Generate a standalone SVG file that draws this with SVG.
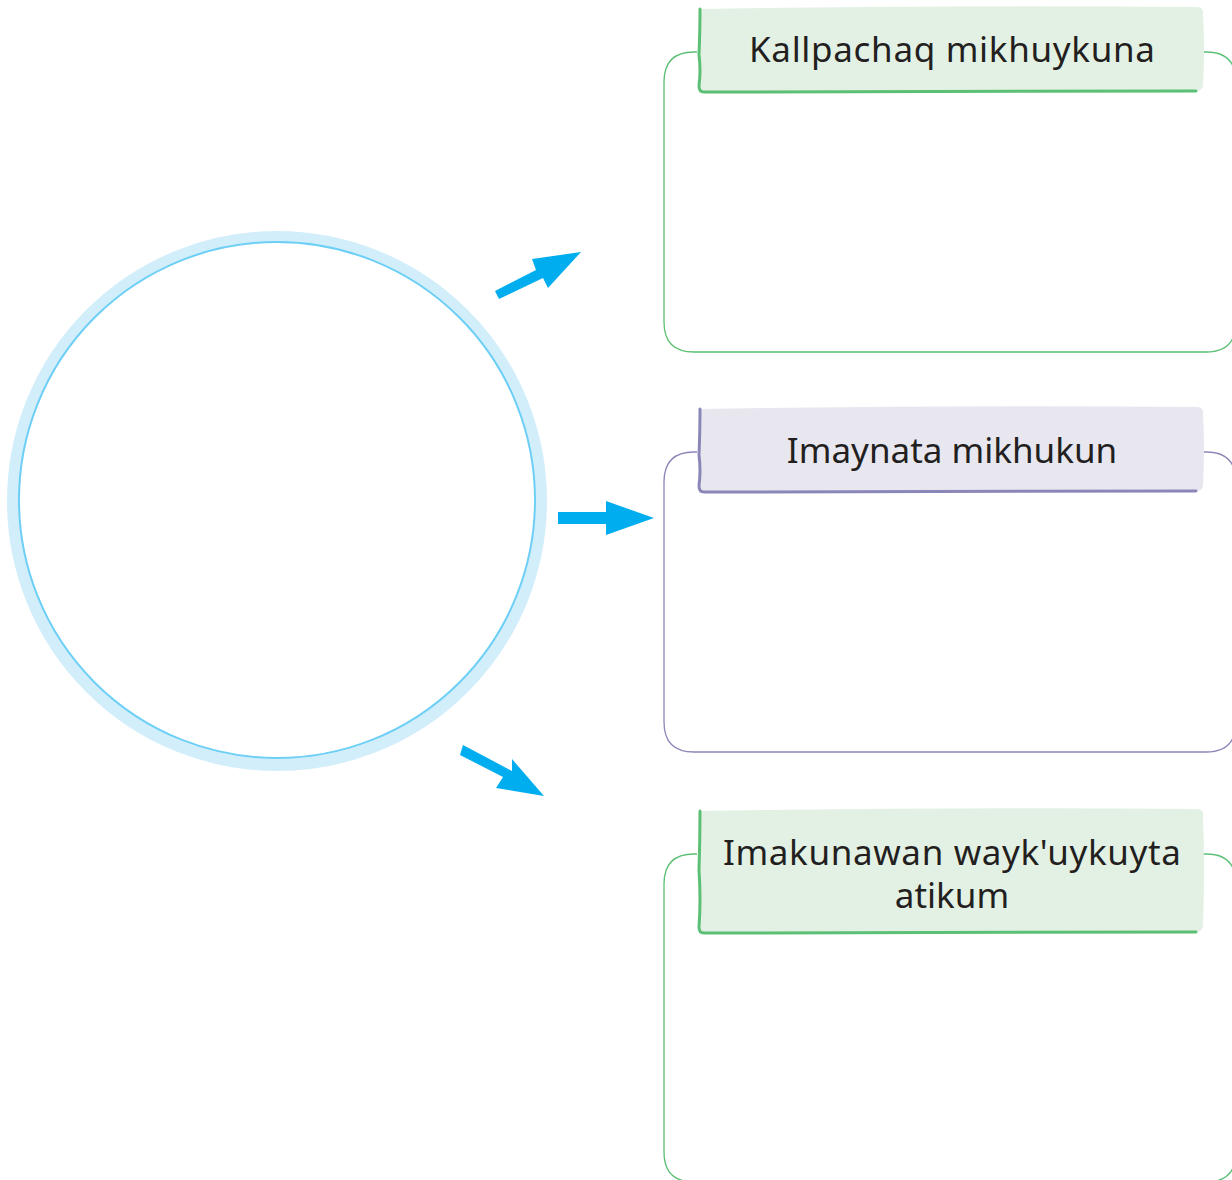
<svg xmlns="http://www.w3.org/2000/svg" width="1232" height="1180" viewBox="0 0 1232 1180">
<style>
.lbl{font-family:"Noto Sans","DejaVu Sans",sans-serif;font-size:35px;fill:#231f20;text-anchor:middle}
.arrow{fill:#00aeef}
.boxg{fill:none;stroke:#5bbf74;stroke-width:1.3}
.boxp{fill:none;stroke:#8b86b8;stroke-width:1.3}
</style>
<rect width="1232" height="1180" fill="#ffffff"/>
<g id="circle">
<circle cx="277" cy="501" r="264" fill="none" stroke="#d3eefb" stroke-width="12"/>
<circle cx="277" cy="500" r="258" fill="#ffffff" stroke="#6dcff6" stroke-width="2"/>
</g>
<g id="connectors">
<polygon class="arrow" points="495,291 536,270 532,259 581,252 548,288 543,278 499,299"/>
<polygon class="arrow" points="558,512 606,512 606,501 654,518 606,535 606,524 558,524"/>
<polygon class="arrow" points="463,745 512,771 512,759 544,796 496,788 503,777 460,755"/>
</g>
<g id="node1">
<path class="boxg" d="M697,52 H694 Q664,52 664,82 V322 Q664,352 694,352 H1206 Q1236,352 1236,322 V82 Q1236,52 1206,52 H1203"/>
<path d="M700,9 Q950,5 1198,7 Q1204,8 1203,14 Q1205,50 1203,86 Q1202,91 1196,91 L704,92 Q699,92 699,86 Q701,70 699,55 Q700,30 700,9 Z" fill="#e3f1e4"/>
<path d="M700,9 Q700,30 699,55 Q701,70 699,86 Q699,92 704,92 L1196,91" fill="none" stroke="#5bbf74" stroke-width="3" stroke-linecap="round"/>
<text class="lbl" x="952" y="62" textLength="406" lengthAdjust="spacing">Kallpachaq mikhuykuna</text>
</g>
<g id="node2">
<path class="boxp" d="M697,452 H694 Q664,452 664,482 V722 Q664,752 694,752 H1206 Q1236,752 1236,722 V482 Q1236,452 1206,452 H1203"/>
<path d="M700,409 Q950,405 1198,407 Q1204,408 1203,414 Q1205,450 1203,486 Q1202,491 1196,491 L704,492 Q699,492 699,486 Q701,470 699,455 Q700,430 700,409 Z" fill="#e8e7f0"/>
<path d="M700,409 Q700,430 699,455 Q701,470 699,486 Q699,492 704,492 L1196,491" fill="none" stroke="#8b86b8" stroke-width="3" stroke-linecap="round"/>
<text class="lbl" x="952" y="463">Imaynata mikhukun</text>
</g>
<g id="node3">
<path class="boxg" d="M697,854 H694 Q664,854 664,884 V1152 Q664,1182 694,1182 H1206 Q1236,1182 1236,1152 V884 Q1236,854 1206,854 H1203"/>
<path d="M700,811 Q950,807 1198,809 Q1204,810 1203,816 Q1205,870 1203,926 Q1202,932 1196,932 L704,933 Q699,933 699,927 Q701,900 699,870 Q700,840 700,811 Z" fill="#e3f1e4"/>
<path d="M700,811 Q700,840 699,870 Q701,900 699,927 Q699,933 704,933 L1196,932" fill="none" stroke="#5bbf74" stroke-width="3" stroke-linecap="round"/>
<text class="lbl" x="952" y="865" textLength="458" lengthAdjust="spacing">Imakunawan wayk'uykuyta</text>
<text class="lbl" x="952" y="908">atikum</text>
</g>
</svg>
